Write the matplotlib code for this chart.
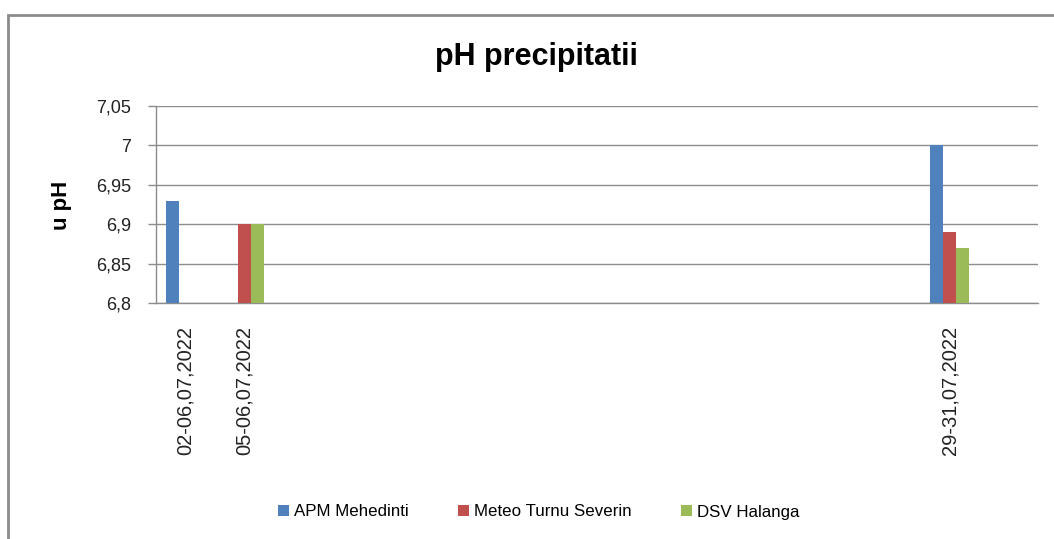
import numpy as np
import matplotlib
matplotlib.use("Agg")
import matplotlib.pyplot as plt
from matplotlib.patches import Rectangle
from matplotlib.ticker import FuncFormatter

plt.rcParams['font.family'] = ['Liberation Sans', 'DejaVu Sans']

# Excel date-like category axis: 15 slots, only three carry data
categories = ["02-06,07,2022", "05-06,07,2022", "", "", "", "", "", "", "",
              "", "", "", "", "29-31,07,2022", ""]
series_names = ["APM Mehedinti", "Meteo Turnu Severin", "DSV Halanga"]
apm = [6.93, None, None, None, None, None, None, None, None, None, None, None, None, 7.00, None]
meteo = [None, 6.90, None, None, None, None, None, None, None, None, None, None, None, 6.89, None]
dsv = [None, 6.90, None, None, None, None, None, None, None, None, None, None, None, 6.87, None]
colors = ['#4F81BD', '#C0504D', '#9BBB59']

fig = plt.figure(figsize=(10.54, 5.39), dpi=100)
ax = fig.add_axes([0.148, 0.4373, 0.8368, 0.3666])

x = np.arange(len(categories))
w = 0.221
ymin = 6.8
for i, (name, vals, c) in enumerate(zip(series_names, [apm, meteo, dsv], colors)):
    v = np.array([np.nan if a is None else a for a in vals], dtype=float)
    ax.bar(x + (i - 1) * w, v - ymin, bottom=ymin, width=w, color=c, label=name, zorder=3)

ax.set_xlim(-0.5, len(categories) - 0.5)
ax.set_ylim(6.8, 7.05)
ax.set_yticks([6.8, 6.85, 6.9, 6.95, 7.0, 7.05])
ax.yaxis.set_major_formatter(FuncFormatter(lambda v, p: ('%g' % round(v, 2)).replace('.', ',')))
ax.set_xticks(x)
ax.set_xticklabels(categories, rotation=90, fontsize=14.5, color='#222222')
ax.tick_params(axis='x', length=0, pad=16)
ax.tick_params(axis='y', length=6, width=1, color='#8c8c8c', labelsize=13, pad=12, labelcolor='#222222')
ax.grid(axis='y', color='#8c8c8c', linewidth=1, zorder=0)
for s in ['top', 'right']:
    ax.spines[s].set_visible(False)
for s in ['left', 'bottom']:
    ax.spines[s].set_color('#8c8c8c')
    ax.spines[s].set_linewidth(1)

fig.text(536 / 1054, 1 - 65 / 539, 'pH precipitatii', ha='center', va='baseline',
         fontsize=22, fontweight='bold')
fig.text(62 / 1054, 1 - 205 / 539, 'u pH', rotation=90, ha='center', va='center',
         fontsize=16, fontweight='bold')

fig.legend(loc='center', bbox_to_anchor=(539 / 1054, 1 - 512 / 539), ncol=3, frameon=False,
           fontsize=12.2, handlelength=0.65, handleheight=0.65, handletextpad=0.3,
           columnspacing=2.9)

# chart frame (cut off at right and bottom like the screenshot)
fig.patches.append(Rectangle((8 / 1054, -0.1), 1.2, 1 - 15 / 539 + 0.1, transform=fig.transFigure,
                             fill=False, edgecolor='#8c8c8c', linewidth=2))

fig.savefig('out.png', dpi=100)
